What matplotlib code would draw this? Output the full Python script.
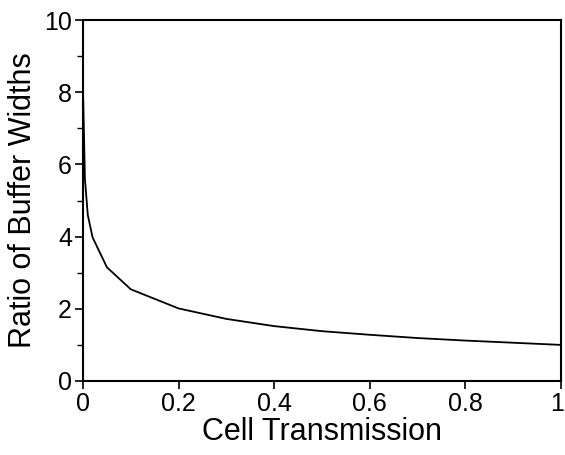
import matplotlib
matplotlib.use("Agg")
import matplotlib.pyplot as plt
import matplotlib.transforms as mtransforms
from matplotlib.ticker import MultipleLocator

plt.rcParams["font.family"] = ["Liberation Sans", "DejaVu Sans"]

# values
transmission = [0.0005, 0.004, 0.01, 0.02, 0.05, 0.1, 0.2, 0.3, 0.4, 0.5, 0.6, 0.7, 0.8, 0.9, 1.0]
ratio = [7.8, 5.6, 4.6, 3.98, 3.15, 2.54, 2.01, 1.72, 1.52, 1.38, 1.28, 1.19, 1.12, 1.06, 1.0]

fig = plt.figure(figsize=(5.65, 4.55), dpi=100)
ax = fig.add_axes([83 / 565, 1 - 381 / 455, 478 / 565, 361 / 455])

ax.plot(transmission, ratio, color="black", linewidth=1.3)

ax.set_xlim(0, 1)
ax.set_ylim(0, 10)
ax.set_xticks([0, 0.2, 0.4, 0.6, 0.8, 1])
ax.set_xticklabels(["0", "0.2", "0.4", "0.6", "0.8", "1"])
ax.set_yticks([0, 2, 4, 6, 8, 10])
ax.yaxis.set_minor_locator(MultipleLocator(1))

ax.tick_params(axis="both", which="major", direction="out", length=6, width=1.2, labelsize=18, pad=2)
ax.tick_params(axis="y", which="minor", direction="out", length=4, width=1)
for s in ax.spines.values():
    s.set_linewidth(1.5)

# nudge the last x label so it stays inside the figure
last = ax.get_xticklabels()[-1]
last.set_transform(last.get_transform() + mtransforms.ScaledTranslation(-4 / 100, 0, fig.dpi_scale_trans))

ax.set_xlabel("Cell Transmission", fontsize=22, labelpad=1)
ax.set_ylabel("Ratio of Buffer Widths", fontsize=22, labelpad=4)

fig.savefig("out.png", dpi=100)
